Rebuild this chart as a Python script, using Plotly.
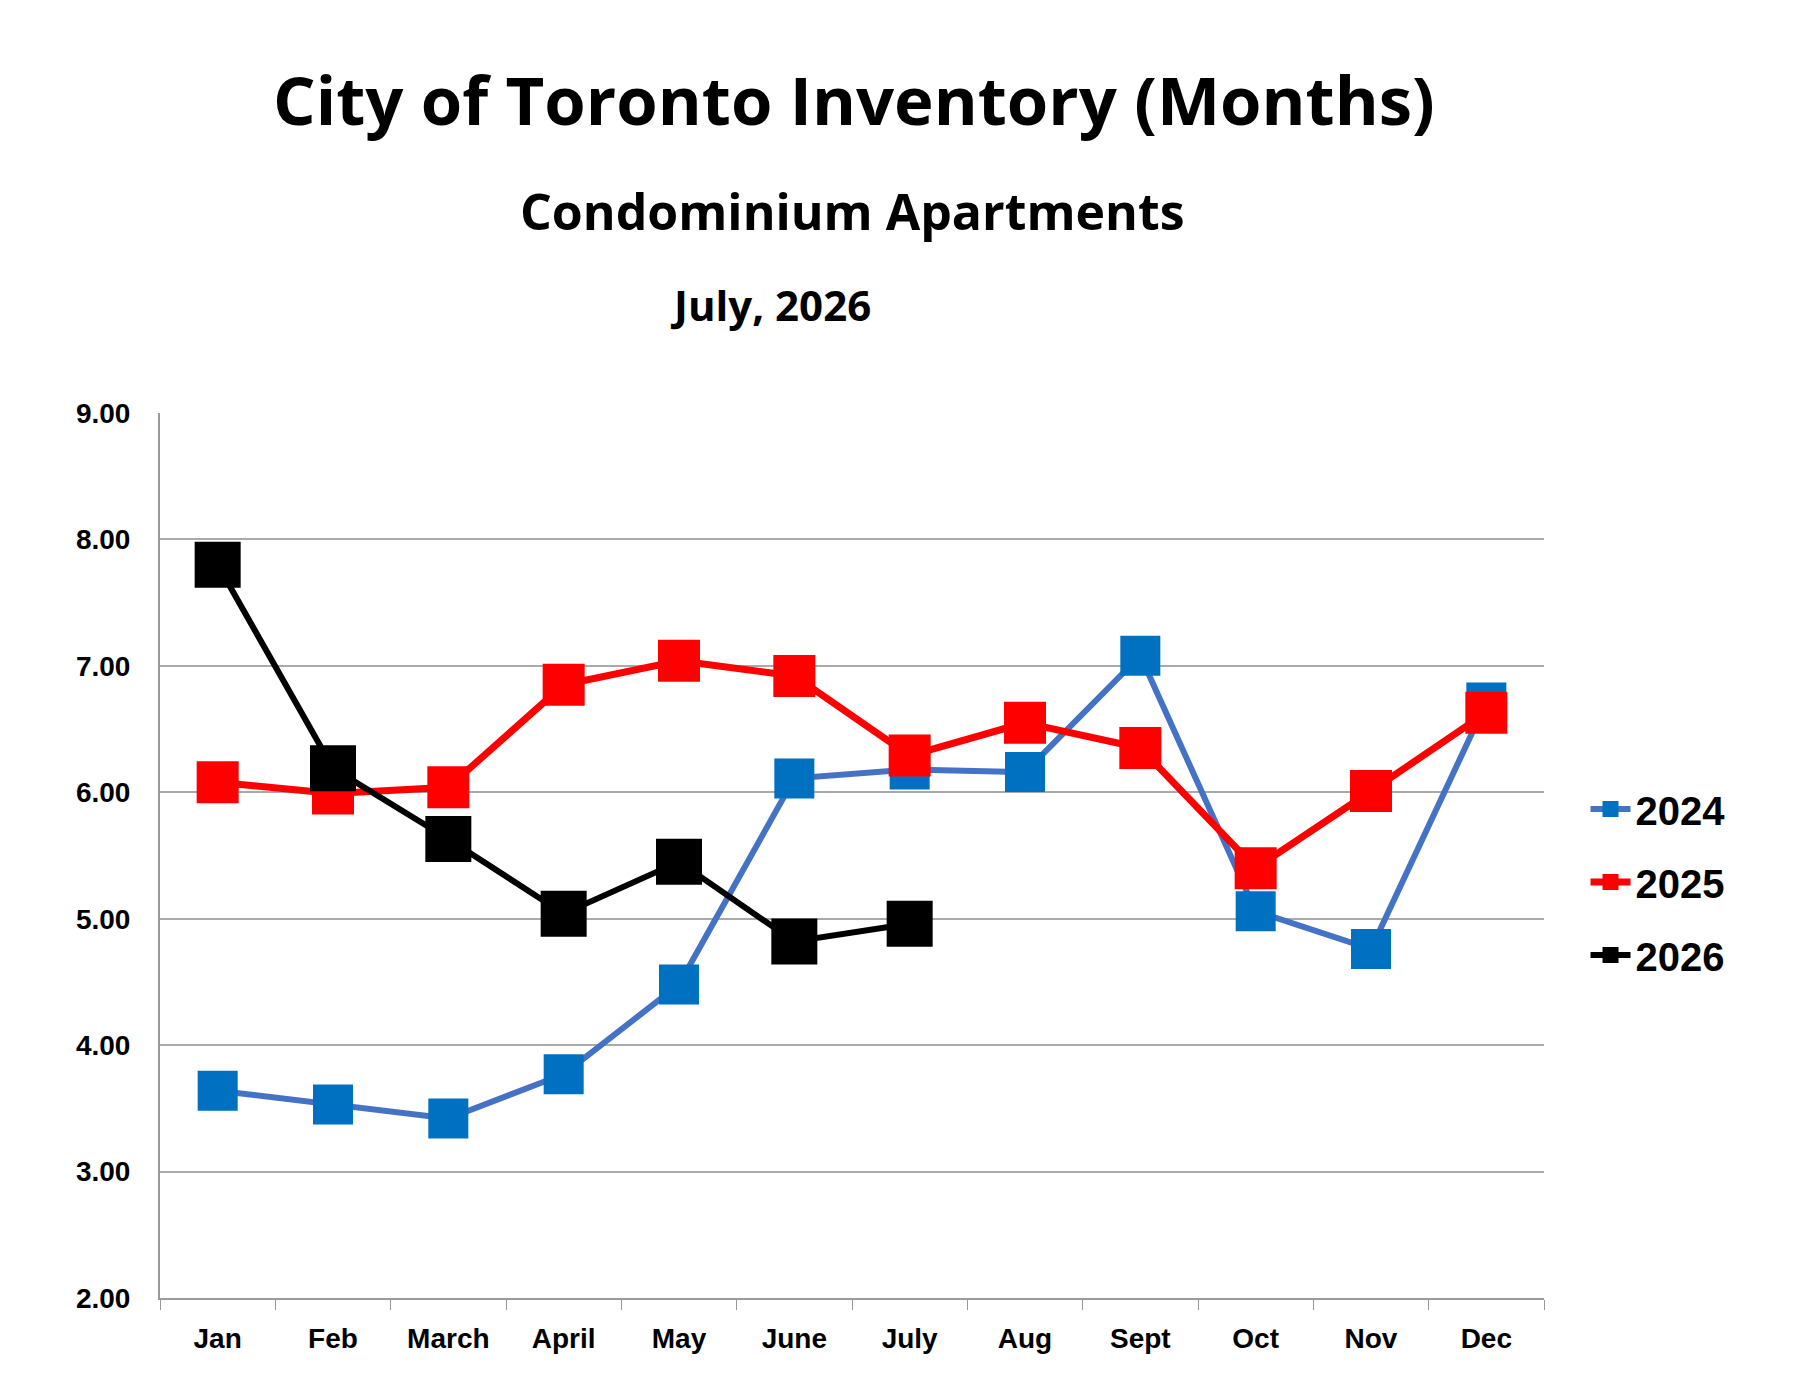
import plotly.graph_objects as go

months = ["Jan","Feb","March","April","May","June","July","Aug","Sept","Oct","Nov","Dec"]
v2024 = [3.64,3.53,3.42,3.77,4.48,6.11,6.18,6.16,7.08,5.06,4.76,6.71]
v2025 = [6.08,5.99,6.04,6.85,7.04,6.92,6.29,6.55,6.35,5.40,6.01,6.63]
v2026 = [7.80,6.19,5.63,5.04,5.45,4.82,4.96]

fig = go.Figure()
fig.add_trace(go.Scatter(x=months, y=v2024, name="2024", legendgroup="a", mode="lines+markers",
    line=dict(color="#4472C4", width=6), marker=dict(symbol="square", size=40, color="#0070C0")))
fig.add_trace(go.Scatter(x=months, y=v2025, name="2025", legendgroup="b", mode="lines+markers",
    line=dict(color="#FF0000", width=7), marker=dict(symbol="square", size=42, color="#FF0000")))
fig.add_trace(go.Scatter(x=months[:len(v2026)], y=v2026, name="2026", legendgroup="c", mode="lines+markers",
    line=dict(color="#000000", width=6), marker=dict(symbol="square", size=46, color="#000000")))

tf = dict(family="Arial Black, Arial", size=28, color="black", weight="bold")
L, R, T, B = 152, 276, 405, 106
fig.update_layout(
    width=1812, height=1396, plot_bgcolor="white", paper_bgcolor="white",
    margin=dict(l=L, r=R, t=T, b=B),
    xaxis=dict(type="category", tickson="boundaries", ticks="outside", ticklen=10,
               tickcolor="#999", showline=True, linecolor="#999", linewidth=2,
               showgrid=False, tickfont=tf, range=[-0.5, 11.5], ticklabelstandoff=14),
    yaxis=dict(range=[2, 9], dtick=1, tickformat=".2f", showgrid=True, gridcolor="#aaa",
               gridwidth=2, showline=True, linecolor="#999", linewidth=2, zeroline=False,
               tickfont=tf, ticks="", ticklabelstandoff=22),
    legend=dict(x=1.03, y=0.47, xanchor="left", yanchor="middle",
                font=dict(family="Arial", size=40, color="black", weight="bold"),
                itemwidth=40, tracegroupgap=18),
    showlegend=True,
)
pw = 1812 - L - R; ph = 1396 - T - B
for text, fx, py, sz in [("City of Toronto Inventory (Months)", 0.467, 91, 67),
                         ("Condominium Apartments", 0.466, 203, 50),
                         ("July, 2026", 0.421, 296, 42)]:
    fig.add_annotation(text=f"<b>{text}</b>", x=(fx * 1812 - L) / pw, y=((1396 - py) - B) / ph,
                       xref="paper", yref="paper", showarrow=False, yanchor="middle",
                       font=dict(family="Open Sans", size=sz, color="black"))
fig.write_html("out.html")
